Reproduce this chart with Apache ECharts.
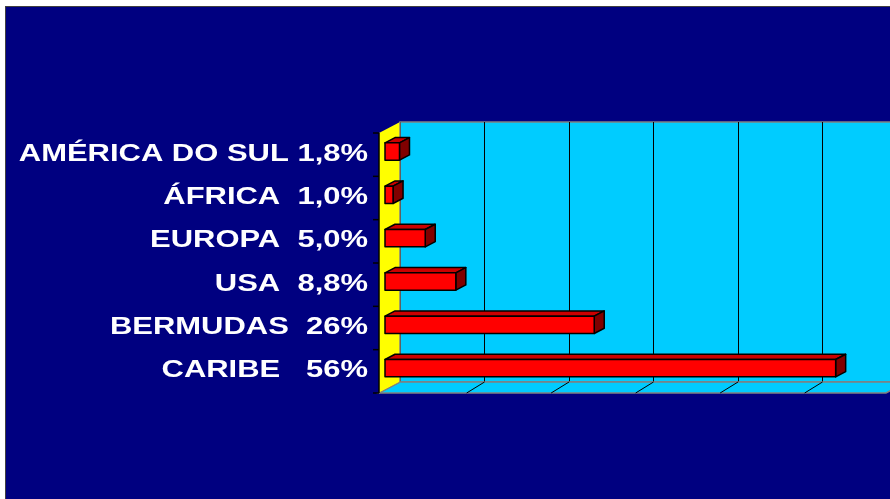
<!DOCTYPE html>
<html>
<head>
<meta charset="utf-8">
<script src="https://cdn.jsdelivr.net/npm/echarts/dist/echarts.min.js"></script>
<style>
  html, body { margin: 0; padding: 0; background: #ffffff; width: 890px; height: 499px; overflow: hidden; }
  #frame { position: absolute; left: 5px; top: 6px; width: 930px; bottom: 0; background: #000080;
           border-left: 1px solid #404040; border-top: 1px solid #404040; }
  #chart { position: absolute; left: 0; top: 0; width: 930px; height: 499px; }
</style>
</head>
<body>
<div id="frame"></div>
<div id="chart"></div>
<script>
// ---- data ----
const categories = ['AMÉRICA DO SUL 1,8%', 'ÁFRICA  1,0%', 'EUROPA  5,0%', 'USA  8,8%', 'BERMUDAS  26%', 'CARIBE   56%'];
const values = [1.8, 1.0, 5.0, 8.8, 26, 56];
const X_MAX = 63;
const X_INTERVAL = 10.5;

// ---- 3D look (style only) ----
const DEPTH_X = 21;   // horizontal offset of front plane vs back wall
const DEPTH_Y = 11;   // vertical offset of front plane vs back wall
const BAR_FRONT = 15 / 21; // depth fraction of bar front face
const BAR_BACK = 5 / 21;   // depth fraction of bar back face
const BAR_THICK = 0.4;     // fraction of band

const chart = echarts.init(document.getElementById('chart'), null, { renderer: 'canvas' });

function renderWalls(params, api) {
  const cs = params.coordSys;
  const gx = cs.x, gy = cs.y, gw = cs.width, gh = cs.height;
  const children = [];
  // floor
  children.push({
    type: 'polygon',
    shape: { points: [[gx, gy + gh], [gx + gw, gy + gh], [gx + gw - DEPTH_X, gy + gh + DEPTH_Y], [gx - DEPTH_X, gy + gh + DEPTH_Y]] },
    style: { fill: '#00CCFF', stroke: '#808080', lineWidth: 1.5 }
  });
  // floor grid ticks
  for (let v = X_INTERVAL; v < X_MAX; v += X_INTERVAL) {
    const x = api.coord([v, 0])[0];
    children.push({
      type: 'line',
      shape: { x1: x, y1: gy + gh, x2: x - DEPTH_X * 0.85, y2: gy + gh + DEPTH_Y },
      style: { stroke: '#000000', lineWidth: 1 }
    });
  }
  // left (yellow) wall
  children.push({
    type: 'polygon',
    shape: { points: [[gx, gy], [gx - DEPTH_X, gy + DEPTH_Y], [gx - DEPTH_X, gy + gh + DEPTH_Y], [gx, gy + gh]] },
    style: { fill: '#FFFF00', stroke: null }
  });
  // wall corner edge
  children.push({
    type: 'line',
    shape: { x1: gx, y1: gy, x2: gx, y2: gy + gh },
    style: { stroke: '#808080', lineWidth: 1.5 }
  });
  children.push({
    type: 'line',
    shape: { x1: gx, y1: gy + gh, x2: gx - DEPTH_X, y2: gy + gh + DEPTH_Y },
    style: { stroke: '#808080', lineWidth: 1 }
  });
  // front category axis line
  children.push({
    type: 'line',
    shape: { x1: gx - DEPTH_X, y1: gy + DEPTH_Y, x2: gx - DEPTH_X, y2: gy + gh + DEPTH_Y },
    style: { stroke: '#000000', lineWidth: 1.5 }
  });
  // category ticks
  const band = api.size([0, 1])[1];
  for (let i = 0; i <= categories.length; i++) {
    const y = gy + DEPTH_Y + i * band;
    children.push({
      type: 'line',
      shape: { x1: gx - DEPTH_X - 6, y1: y, x2: gx - DEPTH_X, y2: y },
      style: { stroke: '#000000', lineWidth: 1.5 }
    });
  }
  return { type: 'group', children: children };
}

function renderBar(params, api) {
  const v = api.value(0), c = api.value(1);
  const base = api.coord([0, c]);
  const end = api.coord([v, c]);
  const band = api.size([0, 1])[1];
  const h = band * BAR_THICK;
  const fx = -DEPTH_X * BAR_FRONT, fy = DEPTH_Y * BAR_FRONT;
  const bx = -DEPTH_X * BAR_BACK, by = DEPTH_Y * BAR_BACK;
  const x0f = base[0] + fx, x1f = end[0] + fx;
  const topF = base[1] + fy - h / 2, botF = topF + h;
  const x0b = base[0] + bx, x1b = end[0] + bx;
  const topB = base[1] + by - h / 2, botB = topB + h;
  const edge = { stroke: '#000000', lineWidth: 1.5, lineJoin: 'round' };
  return {
    type: 'group',
    children: [
      { type: 'polygon', shape: { points: [[x0f, topF], [x1f, topF], [x1b, topB], [x0b, topB]] },
        style: Object.assign({ fill: '#CC0000' }, edge) },
      { type: 'polygon', shape: { points: [[x1f, topF], [x1b, topB], [x1b, botB], [x1f, botF]] },
        style: Object.assign({ fill: '#800000' }, edge) },
      { type: 'rect', shape: { x: x0f, y: topF, width: x1f - x0f, height: h },
        style: Object.assign({ fill: '#FF0000' }, edge) },
      { type: 'text', x: base[0] - DEPTH_X - 11, y: base[1] + DEPTH_Y - 0.5, scaleX: 1.29,
        style: { text: categories[c], fill: '#FFFFFF', font: 'bold 24px "Liberation Sans", Arial, sans-serif',
                 align: 'right', verticalAlign: 'middle', textAlign: 'right', textVerticalAlign: 'middle' } }
    ]
  };
}

chart.setOption({
  backgroundColor: 'transparent',
  animation: false,
  grid: { left: 400, top: 122, width: 507, height: 260, show: true,
          backgroundColor: '#00CCFF', borderColor: '#808080', borderWidth: 1.5 },
  xAxis: {
    type: 'value', min: 0, max: X_MAX, interval: X_INTERVAL,
    axisLine: { show: false }, axisTick: { show: false }, axisLabel: { show: false },
    splitLine: { show: true, lineStyle: { color: '#000000', width: 1 } }
  },
  yAxis: {
    type: 'category', data: categories, inverse: true,
    axisLine: { show: false }, axisTick: { show: false }, axisLabel: { show: false },
    splitLine: { show: false }
  },
  series: [
    { type: 'custom', coordinateSystem: 'cartesian2d', z: 1, silent: true, clip: false,
      data: [[0, 0]], encode: { x: 0, y: 1 }, renderItem: renderWalls },
    { type: 'custom', coordinateSystem: 'cartesian2d', z: 3, silent: true, clip: false,
      data: values.map((v, i) => [v, i]), encode: { x: 0, y: 1 }, renderItem: renderBar }
  ]
});
</script>
</body>
</html>
